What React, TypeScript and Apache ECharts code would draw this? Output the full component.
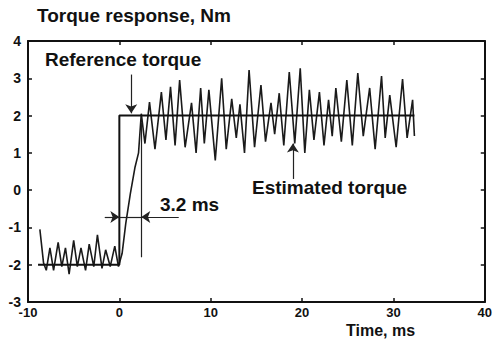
import React, { useEffect, useRef } from "react";
import * as echarts from "echarts";

const refTime = [-8.9, 0, 0, 32.3];
const refValue = [-2, -2, 2, 2];

const estTime = [
  -8.7, -8.3, -8.0, -7.6, -7.2, -6.7, -6.3, -5.9, -5.5, -5.0, -4.6, -4.2, -3.7, -3.3, -2.8, -2.4, -1.9, -1.5, -1.0, -0.5, -0.1,
  0.3, 0.7, 1.2, 1.7, 2.1, 2.4, 2.8, 3.3, 3.9, 4.6, 5.1, 5.6, 6.1, 6.6, 7.2, 7.9, 8.4, 8.9, 9.3, 9.8, 10.5, 11.2, 11.7, 12.3,
  12.8, 13.2, 13.7, 14.2, 14.8, 15.5, 16.0, 16.6, 17.0, 17.5, 18.0, 18.6, 19.2, 19.8, 20.3, 20.8, 21.3, 21.9, 22.4, 22.9,
  23.3, 23.7, 24.3, 24.9, 25.5, 26.1, 26.7, 27.4, 28.0, 28.7, 29.1, 29.6, 30.3, 31.0, 31.5, 32.1, 32.3,
];
const estValue = [
  -1.05, -1.95, -2.15, -1.55, -2.15, -1.4, -2.05, -1.55, -2.25, -1.35, -2.05, -1.55, -2.15, -1.45, -2.05, -1.2, -2.1, -1.6, -2.05, -1.5, -2.05,
  -1.7, -0.9, -0.1, 0.6, 1.0, 2.05, 1.25, 2.36, 1.1, 2.63, 1.35, 2.77, 1.2, 2.95, 1.15, 2.34, 1.0, 2.74, 1.25, 2.69, 0.8, 3.0, 1.1, 2.45,
  1.4, 2.3, 1.0, 3.22, 1.15, 2.82, 1.3, 2.34, 1.5, 2.6, 1.2, 3.17, 1.25, 3.27, 1.0, 2.69, 1.35, 2.63, 1.2, 2.42,
  1.45, 2.74, 1.3, 2.95, 1.2, 3.14, 1.45, 2.74, 1.1, 3.06, 1.4, 2.55, 1.15, 2.98, 1.4, 2.42, 1.45,
];

const xTicks = [-10, 0, 10, 20, 30, 40];
const yTicks = [-3, -2, -1, 0, 1, 2, 3, 4];

const FONT = "'Liberation Sans', Arial, sans-serif";

export default function App() {
  const ref = useRef<HTMLDivElement>(null);
  useEffect(() => {
    if (!ref.current) return;
    const chart = echarts.init(ref.current, undefined, { renderer: "svg" });
    const est = estTime.map((t, i) => [t, estValue[i]]);
    const refd = refTime.map((t, i) => [t, refValue[i]]);
    const lab = { color: "#111", fontFamily: FONT, fontSize: 14, fontWeight: "bold" as const };
    const axisLine = { show: true, onZero: false, lineStyle: { color: "#111", width: 2 } };
    const tick = { show: true, inside: true, length: 4, lineStyle: { color: "#111", width: 1.5 } };
    chart.setOption({
      animation: false,
      backgroundColor: "#fff",
      grid: { left: 28, right: 10, top: 41, bottom: 37, containLabel: false },
      xAxis: [
        {
          type: "value", min: xTicks[0], max: xTicks[xTicks.length - 1], interval: 10,
          axisLine, axisTick: tick, splitLine: { show: false },
          axisLabel: { ...lab, fontSize: 13, lineHeight: 13, margin: 4, showMaxLabel: true, showMinLabel: true },
        },
        {
          type: "value", position: "top", min: xTicks[0], max: xTicks[xTicks.length - 1], interval: 10,
          axisLine, axisTick: tick, splitLine: { show: false }, axisLabel: { show: false },
        },
      ],
      yAxis: [
        {
          type: "value", min: yTicks[0], max: yTicks[yTicks.length - 1], interval: 1,
          axisLine, axisTick: tick, splitLine: { show: false },
          axisLabel: { ...lab, margin: 7 },
        },
        {
          type: "value", position: "right", min: yTicks[0], max: yTicks[yTicks.length - 1], interval: 1,
          axisLine, axisTick: tick, splitLine: { show: false }, axisLabel: { show: false },
        },
      ],
      series: [
        {
          type: "line", data: est, showSymbol: false, symbol: "none",
          lineStyle: { color: "#1a1a1a", width: 1.6 },
          markLine: {
            silent: true,
            symbol: ["none", "none"],
            label: { show: false },
            lineStyle: { color: "#222", width: 1.2, type: "solid" },
            data: [
              [{ coord: [0, -0.72] }, { coord: [2.4, -0.72] }],
              [{ coord: [2.4, 1.8] }, { coord: [2.4, -1.8] }],
            ],
          },
        },
        {
          type: "line", data: refd, showSymbol: false, symbol: "none",
          lineStyle: { color: "#111", width: 2 },
          markLine: {
            silent: true,
            symbol: ["none", "arrow"],
            symbolSize: 9,
            label: { show: false },
            lineStyle: { color: "#222", width: 1.2, type: "solid" },
            data: [
              [{ coord: [1.3, 3.1] }, { coord: [1.3, 2.06] }],
              [{ coord: [19.0, 0.3] }, { coord: [19.0, 1.25] }],
              [{ coord: [-1.6, -0.72] }, { coord: [0, -0.72] }],
              [{ coord: [6.5, -0.72] }, { coord: [2.4, -0.72] }],
            ],
          },
        },
      ],
      graphic: [
        { type: "text", left: 37, top: 6, style: { text: "Torque response, Nm", font: `bold 19px ${FONT}`, fill: "#111" } },
        { type: "text", left: 45, top: 50, style: { text: "Reference torque", font: `bold 19px ${FONT}`, fill: "#111" } },
        { type: "text", left: 252, top: 178, style: { text: "Estimated torque", font: `bold 19px ${FONT}`, fill: "#111" } },
        { type: "text", left: 160, top: 195, style: { text: "3.2 ms", font: `bold 19px ${FONT}`, fill: "#111" } },
        { type: "text", left: 346, top: 322, style: { text: "Time, ms", font: `bold 16px ${FONT}`, fill: "#111" } },
      ],
    });
    return () => chart.dispose();
  }, []);
  return <div ref={ref} style={{ width: 495, height: 339, position: "absolute", left: 0, top: 0 }} />;
}
